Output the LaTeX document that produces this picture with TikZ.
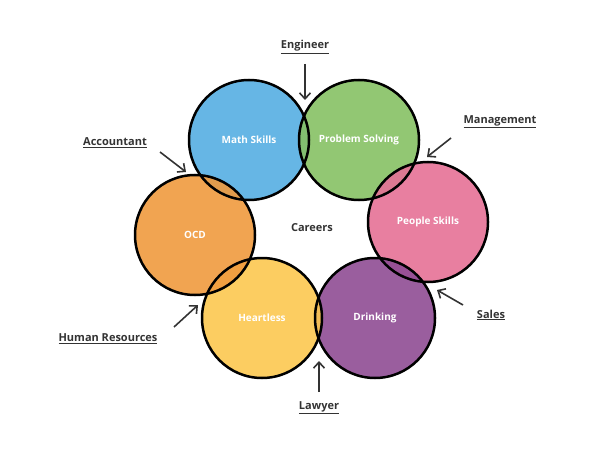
\documentclass[tikz,border=0pt]{standalone}
\usepackage{fontspec}
\setmainfont{Open Sans}
\usetikzlibrary{arrows.meta}
\definecolor{cblue}{HTML}{55AEE2}
\definecolor{cgreen}{HTML}{86C164}
\definecolor{cpink}{HTML}{E57196}
\definecolor{cpurple}{HTML}{8F4C94}
\definecolor{cyellow}{HTML}{FCC850}
\definecolor{corange}{HTML}{EF9A3E}
\definecolor{ctext}{HTML}{333333}
\begin{document}
\begin{tikzpicture}[x=1pt,y=-1pt,
  skill/.style={circle,minimum size=120pt,fill opacity=0.9,text opacity=1,
    text=white,font=\bfseries\fontsize{10}{12}\selectfont},
  career/.style={font=\bfseries\fontsize{11}{13}\selectfont,text=ctext},
  point/.style={-{Straight Barb[length=6pt,width=11pt]},line width=1.6pt,ctext}]
\useasboundingbox (0,0) rectangle (610,457);
% circles
\node[skill,fill=cblue] (math) at (249,140) {Math Skills};
\node[skill,fill=cgreen] (prob) at (359,140) {Problem Solving};
\node[skill,fill=cpink] (people) at (428,222) {People Skills};
\node[skill,fill=cpurple] (drink) at (375,318) {Drinking};
\node[skill,fill=cyellow] (heart) at (262,318) {Heartless};
\node[skill,fill=corange] (ocd) at (195,235) {OCD};
\foreach \c in {math,prob,people,drink,heart,ocd}
  \draw[line width=2.5pt] (\c) circle (60pt);
\node[career] (mid) at (312,228) {Careers};
% careers
\node[career] (eng) at (305,47) {\underline{Engineer}};
\node[career] (man) at (500,122) {\underline{Management}};
\node[career] (acc) at (115,143) {\underline{Accountant}};
\node[career] (sal) at (491,315) {\underline{Sales}};
\node[career] (hr) at (108,339) {\underline{Human Resources}};
\node[career] (law) at (319,408) {\underline{Lawyer}};
\coordinate (eng1) at (305,64); \coordinate (eng2) at (305,100);
\coordinate (man1) at (451,138); \coordinate (man2) at (427,157);
\coordinate (acc1) at (160,152); \coordinate (acc2) at (186,172);
\coordinate (sal1) at (463,305); \coordinate (sal2) at (437,290);
\coordinate (hr1) at (174,327); \coordinate (hr2) at (198,305);
\coordinate (law1) at (319,392); \coordinate (law2) at (319,361);
\foreach \a in {eng,man,acc,sal,hr,law}
  \draw[point] (\a1) -- (\a2);
\end{tikzpicture}
\end{document}
